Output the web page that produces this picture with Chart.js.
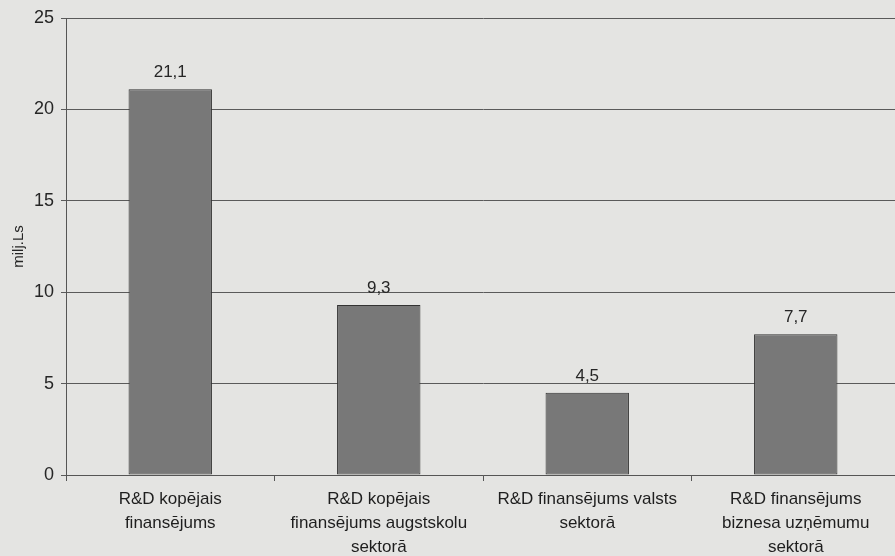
<!DOCTYPE html>
<html>
<head>
<meta charset="utf-8">
<script src="https://cdn.jsdelivr.net/npm/chart.js@4/dist/chart.umd.min.js"></script>
<style>
  html, body { margin: 0; padding: 0; overflow: hidden; background: #e4e4e2; }
  #wrap { width: 905px; height: 556px; }
</style>
</head>
<body>
<div id="wrap"><canvas id="myChart" width="905" height="556"></canvas></div>
<script>
var categories = [
    ["R&D kopējais", "finansējums"],
    ["R&D kopējais", "finansējums augstskolu", "sektorā"],
    ["R&D finansējums valsts", "sektorā"],
    ["R&D finansējums", "biznesa uzņēmumu", "sektorā"]
];
var values = [21.1, 9.3, 4.5, 7.7];
var yMax = 25;
var yStep = 5;
var yTitle = "milj.Ls";

var narrow = "'Liberation Sans Narrow', 'Liberation Sans', Arial, sans-serif";
var sans = "'Liberation Sans', Arial, sans-serif";

// draws the value above every bar, with a decimal comma
var valueLabels = {
    id: 'valueLabels',
    afterDatasetsDraw: function (chart) {
        var ctx = chart.ctx;
        var meta = chart.getDatasetMeta(0);
        ctx.save();
        ctx.font = "17px " + sans;
        ctx.fillStyle = "#262626";
        ctx.textAlign = "center";
        ctx.textBaseline = "bottom";
        meta.data.forEach(function (bar, i) {
            ctx.fillText(values[i].toFixed(1).replace('.', ','), bar.x, bar.y - 8);
        });
        ctx.restore();
    }
};

var chart = new Chart(document.getElementById('myChart'), {
    type: 'bar',
    data: {
        labels: categories,
        datasets: [{
            data: values,
            backgroundColor: '#787878',
            borderColor: '#333',
            borderWidth: 1,
            borderSkipped: false,
            categoryPercentage: 0.4,
            barPercentage: 1.0
        }]
    },
    options: {
        responsive: false,
        animation: false,
        layout: { padding: { left: 0, right: 5, top: 18, bottom: 0 } },
        plugins: {
            legend: { display: false },
            tooltip: { enabled: false }
        },
        scales: {
            x: {
                grid: { drawOnChartArea: false, drawTicks: true, tickLength: 6, color: '#555' },
                border: { display: true, color: '#555', width: 1 },
                ticks: {
                    color: '#1e1e1e',
                    padding: 6,
                    maxRotation: 0,
                    autoSkip: false,
                    font: { family: narrow, size: 17, lineHeight: 1.43 }
                },
                afterFit: function (scale) { scale.height = 81; }
            },
            y: {
                min: 0,
                max: yMax,
                ticks: {
                    stepSize: yStep,
                    color: '#262626',
                    padding: 7,
                    font: { family: sans, size: 18 }
                },
                grid: { color: '#5a5a5a', lineWidth: 1, drawTicks: true, tickLength: 5 },
                border: { display: true, color: '#555', width: 1 },
                title: {
                    display: true,
                    text: yTitle,
                    color: '#262626',
                    padding: { top: 10, bottom: 0 },
                    font: { family: narrow, size: 15 }
                },
                afterFit: function (scale) { scale.width = 66; }
            }
        }
    },
    plugins: [valueLabels]
});
</script>
</body>
</html>
